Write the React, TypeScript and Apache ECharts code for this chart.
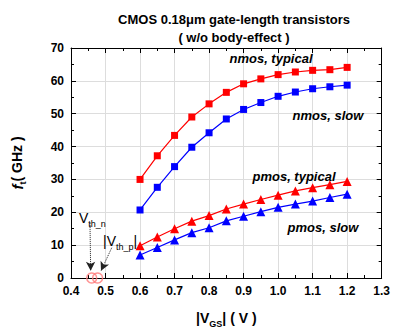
import React, { useEffect, useRef } from "react";
import * as echarts from "echarts";

const vgs = [0.6, 0.65, 0.7, 0.75, 0.8, 0.85, 0.9, 0.95, 1.0, 1.05, 1.1, 1.15, 1.2];
const nmosTypical = [30.0, 37.2, 43.4, 49.0, 53.0, 56.5, 59.1, 60.6, 61.9, 62.7, 63.2, 63.4, 64.1];
const nmosSlow = [20.7, 27.6, 33.9, 39.8, 44.2, 48.4, 51.3, 53.4, 55.3, 56.6, 57.6, 58.2, 58.7];
const pmosTypical = [9.8, 12.5, 15.0, 17.3, 19.0, 21.0, 22.5, 23.9, 25.2, 26.5, 27.5, 28.4, 29.4];
const pmosSlow = [7.0, 9.3, 11.6, 13.8, 15.3, 17.4, 18.8, 20.2, 21.5, 22.5, 23.4, 24.5, 25.5];
const vth = [0.46, 0.477];
const xTicks = { min: 0.4, max: 1.3, interval: 0.1 };
const yTicks = { min: 0, max: 70, interval: 10 };

const FONT = "'Liberation Sans', Arial, sans-serif";

function pairs(xs: number[], ys: number[]) {
  return xs.map((x, i) => [x, ys[i]]);
}

export default function App() {
  const ref = useRef<HTMLDivElement>(null);
  useEffect(() => {
    if (!ref.current) return;
    const chart = echarts.init(ref.current, undefined, { renderer: "svg" });
    const axisCommon = {
      axisLine: { show: true, onZero: false, lineStyle: { color: "#000", width: 1 } },
      axisTick: { show: true, inside: true, length: 5, lineStyle: { color: "#000" } },
      minorTick: { show: true, splitNumber: 2, length: 3, lineStyle: { color: "#000" } },
    };
    const labelStyle = { color: "#000", fontWeight: "bold", fontSize: 12, fontFamily: FONT };
    const lineSeries = (data: number[], color: string, symbol: string, size: number) => ({
      type: "line",
      data: pairs(vgs, data),
      symbol,
      symbolSize: size,
      lineStyle: { color, width: 1.2 },
      itemStyle: { color },
      z: 3,
    });
    const annot = (text: string, x: number, y: number) => ({
      type: "text",
      x,
      y,
      style: {
        text,
        fontFamily: FONT,
        fontSize: 13,
        fontWeight: "bold",
        fontStyle: "italic",
        fill: "#000",
        align: "center",
        verticalAlign: "middle",
      },
      z: 10,
    });
    chart.setOption({
      animation: false,
      backgroundColor: "#fff",
      title: {
        text: "CMOS 0.18μm gate-length transistors\n( w/o body-effect )",
        left: 229,
        textAlign: "center",
        top: 5,
        textStyle: { fontFamily: FONT, fontSize: 13, fontWeight: "bold", color: "#000", lineHeight: 18 },
      },
      grid: { left: 71, right: 9, top: 48, bottom: 50, containLabel: false },
      xAxis: [
        {
          type: "value",
          position: "bottom",
          ...xTicks,
          ...axisCommon,
          splitLine: { show: true, lineStyle: { color: "#dddddd", width: 1 } },
          axisLabel: { ...labelStyle, margin: 7, formatter: (v: number) => v.toFixed(1) },
          name: "{a||V}{s|GS}{a|| ( V )}",
          nameLocation: "middle",
          nameGap: 30,
          nameTextStyle: {
            rich: {
              a: { fontFamily: FONT, fontSize: 14, fontWeight: "bold", color: "#000", lineHeight: 20 },
              s: { fontFamily: FONT, fontSize: 9, fontWeight: "bold", color: "#000", lineHeight: 20, verticalAlign: "bottom" },
            },
          },
        },
        {
          type: "value",
          position: "top",
          ...xTicks,
          ...axisCommon,
          splitLine: { show: false },
          axisLabel: { show: false },
        },
      ],
      yAxis: [
        {
          type: "value",
          position: "left",
          ...yTicks,
          ...axisCommon,
          splitLine: { show: true, lineStyle: { color: "#dddddd", width: 1 } },
          axisLabel: { ...labelStyle, margin: 7 },
          name: "{f|f}{s|t}{a|( GHz )}",
          nameLocation: "middle",
          nameRotate: 90,
          nameGap: 44,
          nameTextStyle: {
            rich: {
              f: { fontFamily: FONT, fontSize: 15, fontWeight: "bold", fontStyle: "italic", color: "#000", lineHeight: 20 },
              a: { fontFamily: FONT, fontSize: 14, fontWeight: "bold", color: "#000", lineHeight: 20 },
              s: { fontFamily: FONT, fontSize: 9, fontWeight: "bold", color: "#000", lineHeight: 20, verticalAlign: "bottom" },
            },
          },
        },
        {
          type: "value",
          position: "right",
          ...yTicks,
          ...axisCommon,
          splitLine: { show: false },
          axisLabel: { show: false },
        },
      ],
      series: [
        lineSeries(nmosTypical, "#ff0000", "rect", 7),
        lineSeries(nmosSlow, "#0000ff", "rect", 7),
        lineSeries(pmosTypical, "#ff0000", "triangle", 9),
        lineSeries(pmosSlow, "#0000ff", "triangle", 9),
        {
          type: "scatter",
          data: vth.map((v) => [v, 0]),
          symbol: "circle",
          symbolSize: 10,
          clip: false,
          itemStyle: { color: "rgba(0,0,0,0)", borderColor: "#ff7878", borderWidth: 1.5 },
          z: 5,
          markLine: {
            silent: true,
            symbol: ["none", "arrow"],
            symbolSize: [7, 9],
            label: { show: false },
            lineStyle: { type: "dotted", color: "#222", width: 1 },
            emphasis: { disabled: true },
            data: [
              [{ coord: [0.455, 16.7] }, { coord: [0.457, 2.2] }],
              [{ coord: [0.518, 9.2] }, { coord: [0.487, 2.2] }],
            ],
          },
        },
      ],
      graphic: [
        annot("nmos, typical", 271, 58),
        annot("nmos, slow", 328, 115),
        annot("pmos, typical", 294, 176),
        annot("pmos, slow", 323, 227),
        {
          type: "text",
          x: 79,
          y: 218,
          style: {
            text: "{v|V}{s|th_n}",
            verticalAlign: "middle",
            rich: {
              v: { fontFamily: FONT, fontSize: 14, fill: "#000", lineHeight: 21 },
              s: { fontFamily: FONT, fontSize: 9, fill: "#000", lineHeight: 21, verticalAlign: "bottom" },
            },
          },
          z: 10,
        },
        {
          type: "text",
          x: 103,
          y: 241,
          style: {
            text: "{v||V}{s|th_p}{v||}",
            verticalAlign: "middle",
            rich: {
              v: { fontFamily: FONT, fontSize: 14, fill: "#000", lineHeight: 21 },
              s: { fontFamily: FONT, fontSize: 9, fill: "#000", lineHeight: 21, verticalAlign: "bottom" },
            },
          },
          z: 10,
        },
      ],
    });
    return () => chart.dispose();
  }, []);
  return <div ref={ref} style={{ position: "fixed", left: 0, top: 0, width: 393, height: 333 }} />;
}
